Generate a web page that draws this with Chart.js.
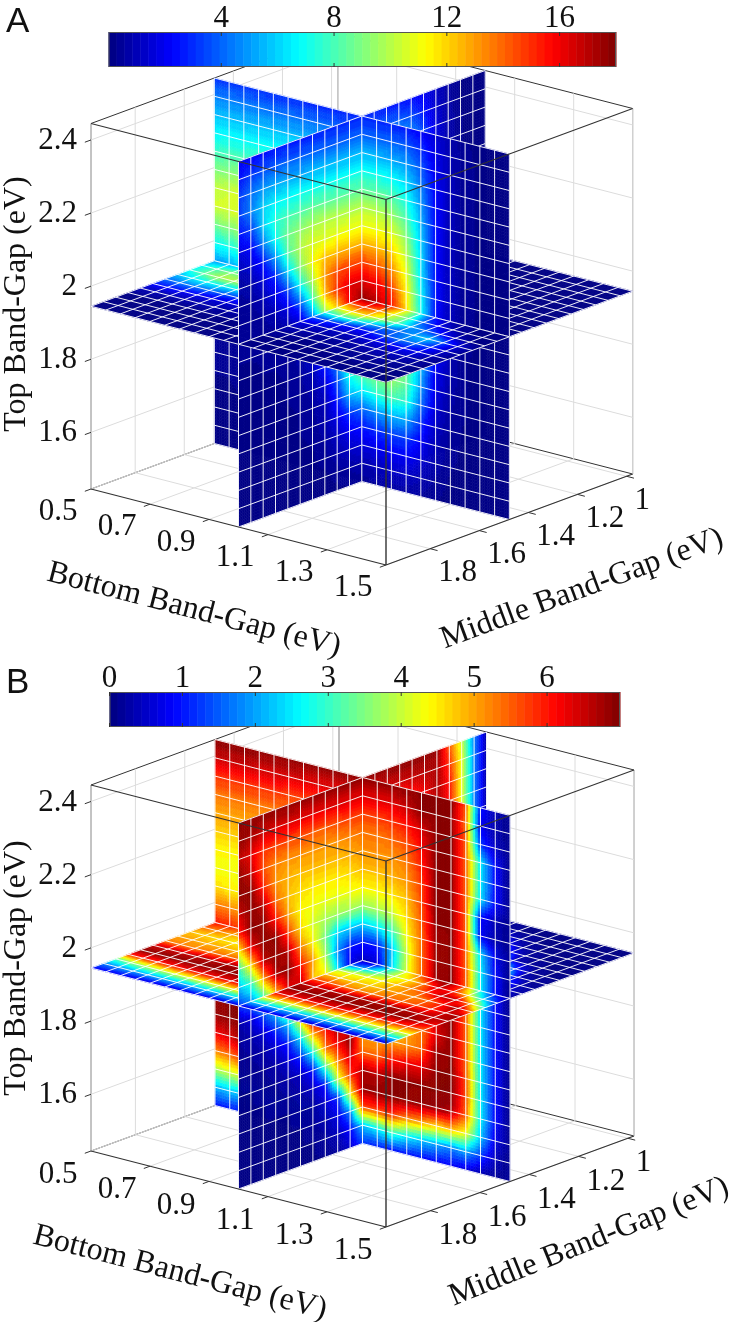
<!DOCTYPE html>
<html><head><meta charset="utf-8"><style>html,body{margin:0;padding:0;background:#fff}canvas{display:block}</style>
<script src="https://cdn.jsdelivr.net/npm/chart.js@4"></script></head><body>
<canvas id="a" width="732" height="661"></canvas><canvas id="b" width="732" height="661"></canvas>
<script>
const xTicks=[0.5,0.7,0.9,1.1,1.3,1.5];
const yTicks=[1,1.2,1.4,1.6,1.8];
const zTicks=[1.6,1.8,2,2.2,2.4];
const cbTicksA=[4,8,12,16];
const cbTicksB=[0,1,2,3,4,5,6];
const xTitle="Bottom Band-Gap (eV)",yTitle="Middle Band-Gap (eV)",zTitle="Top Band-Gap (eV)";
// rows run top (z index 20) to bottom (z index 0); columns x index 0..20
const aSliceXZ=[
[3.2,3.2,3.1,3.1,3,3,3,2.9,2.9,2.8,2.8,2.8,2.8,2.6,2.2,1.5,.8,.3,.2,.2,.2],
[4.5,4.5,4.5,4.4,4.3,4.3,4.2,4.2,4.1,4,4,4,4,3.8,3,1.8,.9,.4,.2,.2,.2],
[5.7,5.7,5.6,5.6,5.6,5.6,5.6,5.5,5.5,5.5,5.5,5.5,5.3,5,3.8,2,1,.4,.2,.2,.2],
[6.7,6.8,6.8,6.9,6.9,7,7,7,7,7,7,7,6.8,6.2,4.5,2.2,1,.4,.2,.2,.2],
[7.8,8,8,8.2,8.3,8.4,8.4,8.5,8.5,8.5,8.5,8.5,8.2,7.2,5,2.3,1,.4,.2,.2,.2],
[9,9.2,9.4,9.6,9.8,10,10,10,10,10,10,10,9.5,8.2,5.5,2.4,1,.4,.2,.2,.2],
[10.2,10.4,10.6,10.9,11,11,11,11,11,11,11,11,10.8,9.2,6,2.5,1,.4,.2,.2,.2],
[10.5,10.5,10.8,11.4,12.2,12.5,12.6,12.7,12.7,12.7,12.7,12.5,12,10.2,6.3,2.5,1,.4,.2,.2,.2],
[8.8,9,9.5,10.6,12.6,14,14.5,14.6,14.7,14.7,14.7,14.3,13.3,11,6.5,2.5,1,.4,.2,.2,.2],
[7,7.2,7.8,9,11.5,14.2,15.6,16,16.3,16.3,16.3,16,14.8,11.5,6.8,2.5,1,.4,.2,.2,.2],
[5,5.2,5.8,7,9,13,16,17,17.6,17.8,17.8,17,15.5,12,7,2.5,1,.4,.2,.2,.2],
[1,1,1.5,3,6,10,13.5,14.5,15,15,15,14.5,13.5,11,6.5,2.5,1,.4,.2,.2,.2],
[.6,.6,1,2,4,7,10.5,12,12.8,13,13,12.8,12,10,6,2.3,.9,.3,.2,.2,.2],
[.5,.5,.8,1.5,3,5,8,9.5,10.5,11,11,11,10.5,9,5.5,2,.8,.3,.2,.2,.2],
[.4,.4,.6,1,2,3.5,6,7,8,8.5,8.5,9,9.5,8.5,5,1.8,.7,.3,.2,.2,.2],
[.3,.3,.5,.8,1.5,2.5,4,5,6,6.5,6.5,7.5,8,7.5,4.2,1.5,.6,.3,.2,.2,.2],
[.3,.3,.4,.6,1,1.6,2.4,3,3.6,4,4,4.8,5.5,5.3,3,1.2,.5,.2,.2,.2,.2],
[.2,.2,.3,.4,.7,1,1.5,1.9,2.3,2.6,2.6,3,3.4,3.3,2.2,1,.4,.2,.2,.2,.2],
[.2,.2,.2,.3,.5,.7,1,1.2,1.4,1.6,1.6,1.8,2.2,2.2,1.5,.8,.3,.2,.2,.1,.1],
[.1,.1,.1,.2,.3,.4,.6,.7,.8,.8,.8,1,1.2,1.2,.9,.5,.2,.1,.1,.1,.1],
[.1,.1,.1,.1,.2,.2,.3,.3,.4,.4,.4,.5,.6,.6,.5,.3,.1,.1,.1,.1,.1]];
// rows top to bottom; columns y index 0..20
const aSliceYZ=[
[.2,.2,.2,.6,1.2,2,2.4,2.6,2.7,2.8,2.8,2.8,2.8,2.8,2.7,2.6,2.6,2.5,2.4,2.2,2],
[.2,.2,.2,.7,1.4,2.6,3.6,3.9,4,4,4,4,4,4,4,3.9,3.9,3.8,3.6,3.2,2.5],
[.2,.2,.3,.8,1.6,3.4,4.8,5.3,5.4,5.5,5.5,5.5,5.5,5.5,5.5,5.4,5.4,5.3,5,4.2,3.2],
[.2,.2,.3,.9,1.8,4,5.8,6.7,6.9,7,7,7,7,7,7,7,6.8,6.6,6,4.5,3.2],
[.2,.2,.3,1,2,4.4,6.6,7.8,8.3,8.5,8.5,8.5,8.5,8.5,8.5,8.2,8,7.4,6,3.3,2.5],
[.2,.2,.3,1,2.2,4.8,7.2,8.8,9.7,10,10,10,10,10,9.8,9.4,8.7,7,4.5,2.2,1.6],
[.2,.2,.3,1,2.3,5,7.8,9.8,10.8,11,11,11,10.9,10.7,10.6,10,8.2,5,2.6,1.4,1],
[.2,.2,.3,1,2.3,5.2,8.4,11,12.2,12.7,12.7,12.7,12.5,12.4,11,9.2,6.2,3,1.6,.8,.6],
[.2,.2,.3,1,2.4,5.4,9,12,14,14.7,14.7,14.7,14.5,13,10,7,3.5,1.8,1,.5,.4],
[.2,.2,.3,1,2.4,5.4,9.2,12.6,15.2,16.3,16.3,16.3,15,12.5,8,3.8,1.8,1,.5,.4,.3],
[.2,.2,.2,.4,1.2,3,6,10,14,16.5,17.8,16,12,9.5,4.5,1.5,.8,.5,.4,.3,.3],
[.2,.2,.3,.9,2.2,5,8.4,11.5,14,15,15,12,8,5,2.5,1,.5,.4,.3,.3,.3],
[.2,.2,.2,.8,2,4.4,7.2,9.6,11.8,13,13,10,6,3.5,1.5,.7,.4,.3,.3,.2,.2],
[.2,.2,.2,.7,1.7,3.6,5.8,7.8,9.8,11,11,8.5,4.5,2.5,1,.5,.3,.2,.2,.2,.2],
[.1,.2,.2,.6,1.4,2.8,4.4,6,7.4,8.5,8.5,7,3.5,1.5,.7,.4,.3,.2,.2,.2,.2],
[.1,.1,.2,.5,1,2,3.2,4.4,5.6,6.5,6.5,5.5,2.7,1,.5,.3,.2,.2,.2,.2,.2],
[.1,.1,.2,.3,.7,1.3,2,2.8,3.5,4,4,3.2,1.8,.8,.4,.3,.2,.2,.2,.2,.2],
[.1,.1,.1,.2,.5,.9,1.3,1.8,2.3,2.6,2.6,2,1.2,.6,.3,.2,.2,.2,.2,.2,.2],
[.1,.1,.1,.2,.3,.5,.8,1.1,1.4,1.6,1.6,1.2,.8,.4,.2,.2,.2,.1,.1,.1,.1],
[.1,.1,.1,.1,.2,.3,.4,.5,.7,.8,.8,.6,.4,.2,.2,.1,.1,.1,.1,.1,.1],
[.1,.1,.1,.1,.1,.2,.2,.3,.3,.4,.4,.3,.2,.2,.1,.1,.1,.1,.1,.1,.1]];
// rows y index 0..20; columns x index 0..20
const aSliceXY=[
[.1,.1,.1,.1,.1,.1,.1,.1,.1,.1,.2,.1,.1,.1,.1,.1,.1,.1,.1,.1,.1],
[.1,.1,.1,.1,.1,.1,.1,.1,.1,.1,.2,.2,.1,.1,.1,.1,.1,.1,.1,.1,.1],
[.1,.1,.1,.1,.1,.1,.1,.1,.2,.2,.2,.2,.2,.1,.1,.1,.1,.1,.1,.1,.1],
[.1,.1,.1,.1,.2,.2,.2,.3,.3,.4,.4,.4,.3,.2,.1,.1,.1,.1,.1,.1,.1],
[.2,.2,.3,.4,.5,.6,.8,.9,1,1.2,1.2,1.2,1,.7,.3,.1,.1,.1,.1,.1,.1],
[.5,.6,.8,1,1.4,1.8,2.2,2.5,2.8,3,3,3,2.6,1.8,.8,.2,.1,.1,.1,.1,.1],
[1,1.2,1.6,2,2.8,3.8,4.6,5.2,5.7,6,6,6,5,3.5,1.6,.5,.2,.1,.1,.1,.1],
[2,2.2,2.8,3.4,4.5,6.5,8,8.8,9.5,10,10,10,8.5,6,3,1,.3,.1,.1,.1,.1],
[3,3.2,4,4.8,6.5,9.5,11.5,12.5,13.5,14,14,13.5,11.5,8.5,4.4,1.5,.5,.2,.1,.1,.1],
[4,4.2,5,6,8,12,14.5,15.5,16,16.3,16.5,15.8,13.8,10.5,5.8,2,.7,.2,.1,.1,.1],
[5,5.2,5.8,7,9,13,16,17,17.6,17.8,17.8,17,15.5,12,7,2.5,1,.3,.2,.2,.2],
[6.5,8,9,9,9,9.5,10,11,12.5,14,14,15,13.5,11,8.5,4,2,.8,.3,.2,.1],
[7,8.5,10,10,9.5,9,9,9.5,10,10.5,10.5,12,12,10,8.5,5.5,4,2.5,1,.3,.2],
[5.5,6.5,7,7,6.5,6.2,6,6,6.5,7,7,8,7.5,6,4.5,4,5,6,4,1.5,.4],
[4,4.5,4.5,4.2,3.8,3.4,3.2,3.2,3.5,3.7,3.5,3.2,2.8,2.4,2.8,3.6,4.4,4.2,3,1.4,.4],
[2.5,2.5,2.3,2,1.8,1.6,1.5,1.5,1.7,1.9,2,1.5,1.2,1.2,1.4,1.8,2.2,2.4,2,1,.3],
[1,1,.9,.9,.8,.8,.7,.7,.6,.5,1,.8,.6,.6,.7,.9,1.1,1.3,1.2,.6,.2],
[.3,.3,.3,.3,.3,.3,.3,.3,.3,.3,.5,.4,.3,.3,.4,.5,.6,.7,.7,.4,.2],
[.2,.2,.2,.2,.2,.2,.2,.2,.2,.2,.3,.2,.2,.2,.2,.3,.3,.4,.4,.3,.1],
[.1,.1,.1,.1,.1,.1,.1,.1,.1,.1,.2,.2,.2,.2,.2,.2,.2,.2,.2,.2,.1],
[.1,.1,.1,.1,.1,.1,.1,.1,.1,.1,.1,.1,.1,.1,.1,.1,.1,.1,.1,.1,.1]];
const bSliceXZ=[
[6.9,6.9,6.9,6.9,6.9,6.9,6.9,6.9,6.9,6.9,6.9,6.9,6.9,6.9,6.9,6.9,6.9,5.6,1,.4,.1],
[6.5,6.5,6.5,6.4,6.4,6.4,6.3,6.3,6.3,6.3,6.3,6.3,6.3,6.5,6.9,6.9,6.9,5.4,.8,.3,.1],
[5.8,5.8,5.8,5.8,5.8,5.7,5.7,5.7,5.7,5.7,5.7,5.7,5.8,6,6.4,6.9,6.9,5.5,1.3,.5,.1],
[5.3,5.3,5.3,5.3,5.3,5.3,5.3,5.3,5.3,5.3,5.3,5.3,5.4,5.6,6.1,6.9,6.9,5.5,2.6,.9,.1],
[5,5,5,5,5,5,5,5,5,5.1,5.1,5.1,5.1,5.3,5.9,6.9,6.9,5.5,2.6,.9,.1],
[4.7,4.7,4.7,4.7,4.7,4.7,4.8,4.8,4.8,4.8,4.8,4.8,4.9,5.1,5.7,6.9,6.9,5.5,2.5,.9,.1],
[4.4,4.4,4.4,4.4,4.4,4.4,4.4,4.4,4.4,4.4,4.4,4.4,4.5,4.8,5.6,6.9,6.9,5.5,.9,.4,.1],
[4.3,4.3,4.2,4.1,4,4,3.9,3.9,3.8,3.7,3.7,3.8,4,4.6,5.5,6.9,6.9,5.5,.8,.3,.1],
[4.6,4.5,4.4,4.2,4,3.7,3.4,3.2,2.8,2.5,2.3,2.5,3,4.3,5.4,6.8,6.9,5.5,2.4,.8,.1],
[5.3,5.2,5,4.7,4.2,3.6,3,2.5,1.6,1.1,1,1,2.2,4,5.4,6.8,6.9,5.5,2.6,.9,.1],
[6,5.9,5.6,5.2,4.6,3.6,2.6,1.6,.8,.5,.4,.6,2.4,4.1,5.4,6.8,6.9,5.5,2.6,.9,.1],
[6.6,6.5,6.2,5.8,5.2,4.2,3.2,2.6,2.2,2.1,2,2.8,3.8,4.6,5.4,6.6,6.9,5.5,2.6,.9,.1],
[6.9,6.8,6.6,6.2,5.6,4.8,4.2,3.9,3.6,3.5,3.5,3.9,4.3,4.8,5.3,6.4,6.9,5.5,2.6,.9,.1],
[6.9,6.9,6.8,6.5,6,5.4,5,4.8,4.6,4.5,4.5,4.6,4.7,4.9,5.3,6.3,6.9,5.5,2.6,.9,.1],
[6.9,6.9,6.9,6.8,6.4,5.8,5.4,5.2,5,5,5,5,5,5.1,5.4,6.8,6.9,5.5,2.6,.9,.1],
[6.8,6.9,6.9,6.9,6.9,6.5,6,5.6,5.4,5.4,5.4,5.4,6,6.2,6.3,6.9,6.9,5.6,2.6,.9,.1],
[6.2,6.4,6.8,6.9,6.9,6.9,6.9,6.9,6.8,6.7,6.7,6.6,6.9,6.9,6.9,6.9,6.9,5.6,2.6,.9,.1],
[5.2,5.4,5.8,6.2,6.6,6.9,6.9,6.9,6.9,6.8,6.8,6.9,6.9,6.9,6.8,6.8,6.7,5.5,2.6,.9,.1],
[3.8,4,4.2,4.4,4.6,5,5.4,5.6,5.6,5.6,5.6,5.6,5.8,5.2,5,4.7,4.8,4.3,2.3,.7,.1],
[2.1,2.2,2.2,2.2,2.2,2.2,2.2,2.2,2.2,2.2,2.2,2.5,3,2.5,2.2,2,1.7,2,1.3,.4,.1],
[.9,1,1,1,1,1.1,1.1,1.2,1.2,1.2,1.2,1,.9,.9,.9,.8,.8,.6,.3,.2,.1]];
const bSliceYZ=[
[.3,1.7,4,5.5,6.8,6.9,6.9,6.9,6.9,6.9,6.9,6.9,6.9,6.9,6.9,6.9,6.9,6.9,6.9,6.9,6.9],
[.3,1.7,4.2,5.8,6.7,6.6,6.5,6.5,6.4,6.3,6.3,6.3,6.3,6.3,6.3,6.3,6.4,6.4,6.5,6.7,6.9],
[.3,1.7,4.2,6,6.7,6.2,5.9,5.8,5.7,5.7,5.7,5.7,5.6,5.5,5.5,5.6,5.6,5.7,5.8,6.3,6.6],
[.3,1.7,4.2,6,6.6,6,5.5,5.4,5.3,5.3,5.3,5.2,5.1,5.1,5.1,5.1,5.1,5.2,5.6,6.5,6.9],
[.3,1.7,4.2,6,6.5,5.8,5.3,5.2,5.1,5.1,5.1,4.9,4.8,4.8,4.8,4.8,4.9,5.1,5.9,6.9,6.9],
[.3,1.7,4.2,6,6.4,5.6,5.1,4.9,4.8,4.8,4.8,4.6,4.5,4.5,4.5,4.6,4.8,5.4,6.6,6.9,6.5],
[.3,1.7,4.2,6,6.4,5.5,5,4.6,4.4,4.4,4.4,4.3,4.2,4.2,4.3,4.4,5,6,6.9,6.9,6],
[.3,1.7,4.2,6,6.3,5.4,4.8,4.3,4,3.7,3.7,3.7,3.7,3.8,4.1,4.6,5.7,6.9,6.9,6.3,4.4],
[.3,1.7,4.2,6,6.3,5.3,4.6,4,3.2,2.6,2.3,2.2,2.3,3.4,4.4,5.2,6.6,6.9,6.6,4.6,3],
[.3,1.7,4.2,6,6.3,5.3,4.5,3.6,2.4,1.4,1,1,1.8,3.8,5,6,6.9,6.7,5,3,2.2],
[.3,1.7,4.2,6,6.3,5.3,4.4,3.2,1.6,.6,.4,.7,2.4,4.4,4.8,6.5,6.3,4.8,3,1.8,1.2],
[.3,1.7,4.2,6,6.3,5.3,4.6,3.6,2.6,2,2,4,6,6.9,6.9,6.4,4.6,2.4,1.4,.6,.3],
[.3,1.7,4.2,6,6.4,5.4,4.8,4.2,3.6,3.5,3.5,5,6,6.8,6.9,4.6,2.2,1.2,.6,.3,.2],
[.3,1.7,4.2,6,6.5,5.6,5,4.7,4.5,4.5,4.5,5.4,6.8,6,5,2.5,1.1,.6,.3,.2,.2],
[.3,1.7,4.2,6,6.7,6,5.4,5.1,5,5,5,6.9,6.2,5.4,2.8,1.2,.6,.3,.2,.2,.1],
[.3,1.7,4.2,6,6.9,6.5,6,5.6,5.4,5.4,5.4,6.4,5.2,3.3,1,.5,.3,.2,.2,.1,.1],
[.3,1.6,4.2,5.8,6.9,6.9,6.9,6.9,6.8,6.7,6.7,5.8,4,1.1,.5,.3,.2,.2,.1,.1,.1],
[.2,1.5,4,5.4,6.6,6.8,6.9,6.9,6.9,6.8,6.8,4.4,1.2,.6,.2,.2,.1,.1,.1,.1,.1],
[.2,1.2,3.4,4.4,4.8,5,5.2,5.4,5.5,5.6,5.6,1.8,.7,.3,.2,.1,.1,.1,.1,.1,.1],
[.1,.7,1.4,1.8,2,2.1,2.2,2.2,2.2,2.2,2.2,.9,.4,.2,.1,.1,.1,.1,.1,.1,.1],
[.1,.3,.6,.8,.9,1,1.1,1.1,1.2,1.2,1.2,.5,.2,.1,.1,.1,.1,.1,.1,.1,.1]];
const bSliceXY=[
[.3,.3,.3,.3,.3,.3,.3,.3,.3,.3,.3,.2,.1,.1,.1,.1,.1,.1,.1,.1,.1],
[1.6,1.6,1.6,1.6,1.6,1.5,1.5,1.5,1.4,1.4,1.4,.8,.3,.1,.1,.1,.1,.1,.1,.1,.1],
[3.6,3.6,3.6,3.6,3.6,3.6,3.6,3.6,3.6,3.6,3.6,3,1.6,.6,.2,.1,.1,.1,.1,.1,.1],
[5.6,5.6,5.6,5.6,5.5,5.4,5.3,5.3,5.2,5.2,5.2,5,4,2.4,.8,.2,.1,.1,.1,.1,.1],
[6.9,6.9,6.8,6.6,6.4,6.2,6.1,6.1,6,6,6,6,5.8,5,2.8,.8,.2,.1,.1,.1,.1],
[6.8,6.7,6.5,6.1,5.7,5.4,5.3,5.3,5.3,5.3,5.3,5.3,5.4,5.4,5,3,.4,.2,.1,.1,.1],
[6.7,6.6,6.4,6,5.5,5.2,5,5,5,5,5,5,5,5.1,5.3,5.2,3,1,.2,.1,.1],
[6.6,6.5,6.3,5.9,5.4,5,4.8,4.6,4.5,4.5,4.5,4.5,4.6,4.8,5.2,5.8,6,3,.4,.2,.1],
[6.5,6.4,6.2,5.8,5.2,4.8,4.4,4,3.6,3.4,3.4,3.8,4.3,4.6,5.2,6.2,6.6,4.6,1.5,.3,.2],
[6.3,6.2,6,5.6,5,4.2,3.4,2.6,2,1.6,1.2,2,3.4,4.5,5.3,6.4,6.8,5,2.2,.6,.2],
[6,5.9,5.6,5.2,4.6,3.6,2.6,1.6,.8,.5,.4,.6,2.4,4.1,5.4,6.8,6.9,5.5,2.6,.9,.2],
[5.4,5.2,5,4.7,4.4,3.8,3.2,2.6,2.2,1.8,1.5,2,3,4,4.5,5.2,6.5,6,4.6,2.4,1],
[4.8,4.7,4.6,4.5,4.4,4.3,4.2,4.1,4,3.9,3.8,4.2,4.3,4.4,4.8,5.2,5.7,6.6,6.6,5,2.4],
[5,5,4.9,4.9,4.8,4.8,4.8,4.8,4.8,4.8,4.8,4.7,4.7,4.7,4.9,5.1,5.2,5.4,6,6.8,5],
[5.2,5.2,5.2,5.3,5.3,5.4,5.4,5.4,5.5,5.6,5.6,5.6,5.3,5.2,5.2,5.4,5.4,5.6,5.8,6.4,6.8],
[6.5,6.5,6.5,6.6,6.6,6.7,6.7,6.7,6.7,6.7,6.7,6.5,6.6,6.7,6.7,6.7,6.7,6.7,6.6,6.5,6.7],
[6.9,6.9,6.9,6.9,6.9,6.9,6.9,6.9,6.9,6.9,6.9,6.9,6.9,6.9,6.9,6.9,6.9,6.9,6.9,6.6,6.1],
[6,6,6,6.1,6.2,6.2,6.3,6.3,6.3,6.3,6.3,6.3,6.2,6.2,6.2,6.1,6.1,6,6,5.8,5.5],
[3.2,3.6,3.8,4,4.1,4.2,4.3,4.4,4.5,4.6,4.6,4.5,4.4,4.4,4.4,4.3,4.3,4.3,4.3,4.3,4.3],
[1.8,1.9,2,2.1,2.1,2.2,2.2,2.3,2.3,2.4,2.4,2.3,2.2,2.2,2.2,2.2,2.2,2.2,2.2,2.3,2.5],
[.8,.8,.8,.7,.7,.7,.7,.7,.7,.7,.7,.7,.7,.7,.6,.6,.6,.6,.6,.6,.7]];

const xRange=[0.5,1.5],yRange=[0.975,1.98],zRange=[1.445,2.445];
const sliceAt={x:1,y:1.4775,z:1.945};
const N=21;
const SERIF='"Liberation Serif","Times New Roman",serif';
function lin(r,t){return r[0]+(r[1]-r[0])*t}
function frac(r,v){return (v-r[0])/(r[1]-r[0])}
function jet(t){
  t=Math.max(0,Math.min(.9999,t));t=(Math.floor(t*64)+.5)/64;
  const c=v=>Math.round(255*Math.max(0,Math.min(1,1.5-Math.abs(4*t-v))));
  return 'rgb('+c(3)+','+c(2)+','+c(1)+')';
}
function panel(id,cfg){
  const g=cfg.geom;
  const BB=[g.BL[0]+g.BR[0]-g.BF[0],g.BL[1]+g.BR[1]-g.BF[1]];
  const pr=(x,y,z)=>{
    const a=frac(xRange,x),b=frac(yRange,y),c=frac(zRange,z);
    return {x:BB[0]+a*(g.BR[0]-BB[0])+b*(g.BL[0]-BB[0]),y:BB[1]+a*(g.BR[1]-BB[1])+b*(g.BL[1]-BB[1])-c*g.H};
  };
  const nx=i=>lin(xRange,i/(N-1)),ny=i=>lin(yRange,i/(N-1)),nz=i=>lin(zRange,i/(N-1));
  const nodesXZ=[],nodesYZ=[],nodesXY=[];
  for(let j=0;j<N;j++)for(let i=0;i<N;i++){
    nodesXZ.push({...pr(nx(i),sliceAt.y,nz(j)),v:cfg.xz[N-1-j][i]});
    nodesYZ.push({...pr(sliceAt.x,ny(i),nz(j)),v:cfg.yz[N-1-j][i]});
    nodesXY.push({...pr(nx(i),ny(j),sliceAt.z),v:cfg.xy[j][i]});
  }
  const line=(p,q,col,w)=>({type:'scatter',showLine:true,data:[p,q],borderColor:col,borderWidth:w,pointRadius:0,order:5});
  const ds=[];
  const gc='#dcdcdc',bc='#333';
  const [x0,x1]=xRange,[y0,y1]=yRange,[z0,z1]=zRange;
  zTicks.forEach(z=>{ds.push(line(pr(x0,y0,z),pr(x0,y1,z),gc,1));ds.push(line(pr(x0,y0,z),pr(x1,y0,z),gc,1));});
  yTicks.forEach(y=>{ds.push(line(pr(x0,y,z0),pr(x0,y,z1),gc,1));ds.push(line(pr(x0,y,z0),pr(x1,y,z0),gc,1));});
  xTicks.forEach(x=>{ds.push(line(pr(x,y0,z0),pr(x,y0,z1),gc,1));ds.push(line(pr(x,y0,z0),pr(x,y1,z0),gc,1));});
  ds.push(line(pr(x0,y0,z0),pr(x0,y0,z1),'#666',1.2));
  ds.push(line(pr(x0,y1,z0),pr(x0,y1,z1),'#888',1));
  ds.push(line(pr(x1,y0,z0),pr(x1,y0,z1),'#888',1));
  ds.push(line(pr(x0,y1,z0),pr(x0,y0,z0),bc,1));
  ds.push(line(pr(x0,y0,z0),pr(x1,y0,z0),bc,1));
  ds.push(line(pr(x0,y1,z1),pr(x0,y0,z1),bc,1));
  ds.push(line(pr(x0,y0,z1),pr(x1,y0,z1),bc,1));
  const iXZ=ds.length;ds.push({type:'scatter',label:'slice at fixed middle gap',data:nodesXZ,pointRadius:0,showLine:false});
  const iYZ=ds.length;ds.push({type:'scatter',label:'slice at fixed bottom gap',data:nodesYZ,pointRadius:0,showLine:false});
  const iXY=ds.length;ds.push({type:'scatter',label:'slice at fixed top gap',data:nodesXY,pointRadius:0,showLine:false});

  const drawQuad=(chart,dsIndex,i0,i1,j0,j1)=>{
    const ctx=chart.ctx,els=chart.getDatasetMeta(dsIndex).data,vals=chart.data.datasets[dsIndex].data;
    const S=6;
    for(let j=j0;j<j1;j++)for(let i=i0;i<i1;i++){
      const A=els[j*N+i],B=els[j*N+i+1],C=els[(j+1)*N+i],D=els[(j+1)*N+i+1];
      const va=vals[j*N+i].v,vb=vals[j*N+i+1].v,vc=vals[(j+1)*N+i].v,vd=vals[(j+1)*N+i+1].v;
      const P=(u,w)=>[A.x*(1-u)*(1-w)+B.x*u*(1-w)+C.x*(1-u)*w+D.x*u*w,A.y*(1-u)*(1-w)+B.y*u*(1-w)+C.y*(1-u)*w+D.y*u*w];
      for(let q=0;q<S;q++)for(let p=0;p<S;p++){
        const u=(p+.5)/S,w=(q+.5)/S;
        const v=va*(1-u)*(1-w)+vb*u*(1-w)+vc*(1-u)*w+vd*u*w;
        const col=jet(v/cfg.cbMax);
        const a=P(p/S,q/S),b=P((p+1)/S,q/S),c=P((p+1)/S,(q+1)/S),d=P(p/S,(q+1)/S);
        ctx.beginPath();ctx.moveTo(a[0],a[1]);ctx.lineTo(b[0],b[1]);ctx.lineTo(c[0],c[1]);ctx.lineTo(d[0],d[1]);ctx.closePath();
        ctx.fillStyle=col;ctx.strokeStyle=col;ctx.lineWidth=.6;ctx.fill();ctx.stroke();
      }
    }
    ctx.strokeStyle='rgba(255,255,255,.92)';ctx.lineWidth=1;
    ctx.beginPath();
    for(let j=j0;j<=j1;j++){ctx.moveTo(els[j*N+i0].x,els[j*N+i0].y);ctx.lineTo(els[j*N+i1].x,els[j*N+i1].y);}
    for(let i=i0;i<=i1;i++){ctx.moveTo(els[j0*N+i].x,els[j0*N+i].y);ctx.lineTo(els[j1*N+i].x,els[j1*N+i].y);}
    ctx.stroke();
  };
  const plugin={id:'slices',afterDatasetsDraw(chart){
    const ctx=chart.ctx,sx=chart.scales.x,sy=chart.scales.y;
    const M=10,E=20;
    ctx.save();
    [[iXY,0,M,0,M],[iXZ,0,M,0,M],[iXZ,0,M,M,E],[iXY,0,M,M,E],
     [iYZ,0,M,0,M],[iYZ,0,M,M,E],[iYZ,M,E,0,M],[iYZ,M,E,M,E],
     [iXY,M,E,0,M],[iXZ,M,E,0,M],[iXZ,M,E,M,E],[iXY,M,E,M,E]].forEach(q=>drawQuad(chart,...q));
    const px=p=>[sx.getPixelForValue(p.x),sy.getPixelForValue(p.y)];
    const seg=(p,q,col,w)=>{const a=px(p),b=px(q);ctx.beginPath();ctx.moveTo(a[0],a[1]);ctx.lineTo(b[0],b[1]);ctx.strokeStyle=col;ctx.lineWidth=w||1;ctx.stroke();};
    seg(pr(x0,y1,z1),pr(x1,y1,z1),bc,1.1);seg(pr(x1,y1,z1),pr(x1,y0,z1),bc,1.1);
    seg(pr(x1,y1,z0),pr(x1,y1,z1),'#333',1.4);
    seg(pr(x0,y1,z0),pr(x1,y1,z0),bc,1.1);seg(pr(x1,y1,z0),pr(x1,y0,z0),bc,1.1);
    const dy=(y1-y0)*.025,dx=(x1-x0)*.025;
    zTicks.forEach(z=>seg(pr(x0,y1,z),pr(x0,y1+dy,z),bc));
    xTicks.forEach(x=>seg(pr(x,y1,z0),pr(x,y1+dy,z0),bc));
    yTicks.forEach(y=>seg(pr(x1,y,z0),pr(x1+dx,y,z0),bc));
    ctx.fillStyle='#111';ctx.font='31px '+SERIF;ctx.textBaseline='middle';
    ctx.textAlign='right';
    zTicks.forEach(z=>{const a=px(pr(x0,y1,z));ctx.fillText(String(z),a[0]-14,a[1]+1);});
    ctx.textAlign='center';
    xTicks.forEach(x=>{const a=px(pr(x,y1,z0));ctx.fillText(x.toFixed(1),a[0]+cfg.xLab[0],a[1]+cfg.xLab[1]);});
    ctx.textAlign='left';
    yTicks.forEach(y=>{const a=px(pr(x1,y,z0));ctx.fillText(String(y),a[0]+8,a[1]+cfg.yLab);});
    const rot=(t,p,deg)=>{ctx.save();ctx.translate(sx.getPixelForValue(p[0]),sy.getPixelForValue(p[1]));ctx.rotate(deg*Math.PI/180);ctx.textAlign='center';ctx.fillText(t,0,0);ctx.restore();};
    ctx.font='32px '+SERIF;
    rot(zTitle,cfg.zT,-90);rot(xTitle,cfg.xT,14.5);rot(yTitle,cfg.yT,cfg.yRot);
    const cb=cfg.cb,W=cb.r-cb.l;
    for(let i=0;i<64;i++){
      const l=sx.getPixelForValue(cb.l+W*i/64),r=sx.getPixelForValue(cb.l+W*(i+1)/64);
      ctx.fillStyle=jet((i+.5)/64);ctx.fillRect(l,sy.getPixelForValue(cb.t),r-l+.5,sy.getPixelForValue(cb.b)-sy.getPixelForValue(cb.t));
    }
    ctx.strokeStyle='#555';ctx.lineWidth=1;ctx.strokeRect(cb.l+.5,cb.t+.5,W-1,cb.b-cb.t-1);
    ctx.font='31px '+SERIF;ctx.fillStyle='#111';ctx.textAlign='center';ctx.textBaseline='alphabetic';
    cfg.cbTicks.forEach(v=>{
      const p=cb.l+W*v/cfg.cbMax;
      ctx.beginPath();ctx.moveTo(p,cb.t);ctx.lineTo(p,cb.t+4);ctx.moveTo(p,cb.b);ctx.lineTo(p,cb.b-4);ctx.strokeStyle='#333';ctx.stroke();
      ctx.fillText(String(v),p,cb.t-5);
    });
    ctx.font='35px "Liberation Sans",Arial,sans-serif';ctx.textAlign='left';
    ctx.fillText(cfg.letter,6,32);
    ctx.restore();
  }};
  new Chart(document.getElementById(id),{
    data:{datasets:ds},
    options:{responsive:false,animation:false,devicePixelRatio:1,layout:{padding:0},
      plugins:{legend:{display:false},tooltip:{enabled:false},title:{display:false}},
      scales:{x:{type:'linear',display:false,min:0,max:732},y:{type:'linear',display:false,min:0,max:661,reverse:true}}},
    plugins:[plugin]
  });
}
panel('a',{letter:'A',xz:aSliceXZ,yz:aSliceYZ,xy:aSliceXY,cbMax:18,cbTicks:cbTicksA,
  geom:{BL:[91,489],BF:[386,565],BR:[632.7,474],H:365.5},
  cb:{l:108.5,r:616,t:32,b:67},xLab:[-33,23],yLab:24.5,
  zT:[17,304],xT:[194,610],yT:[582,589],yRot:-20.2});
panel('b',{letter:'B',xz:bSliceXZ,yz:bSliceYZ,xy:bSliceXY,cbMax:7,cbTicks:cbTicksB,
  geom:{BL:[91,490],BF:[386,566],BR:[634,475],H:366},
  cb:{l:109.5,r:620,t:31,b:66},xLab:[-33,24],yLab:25,
  zT:[17,307],xT:[180,612],yT:[589,581],yRot:-22});
</script></body></html>
